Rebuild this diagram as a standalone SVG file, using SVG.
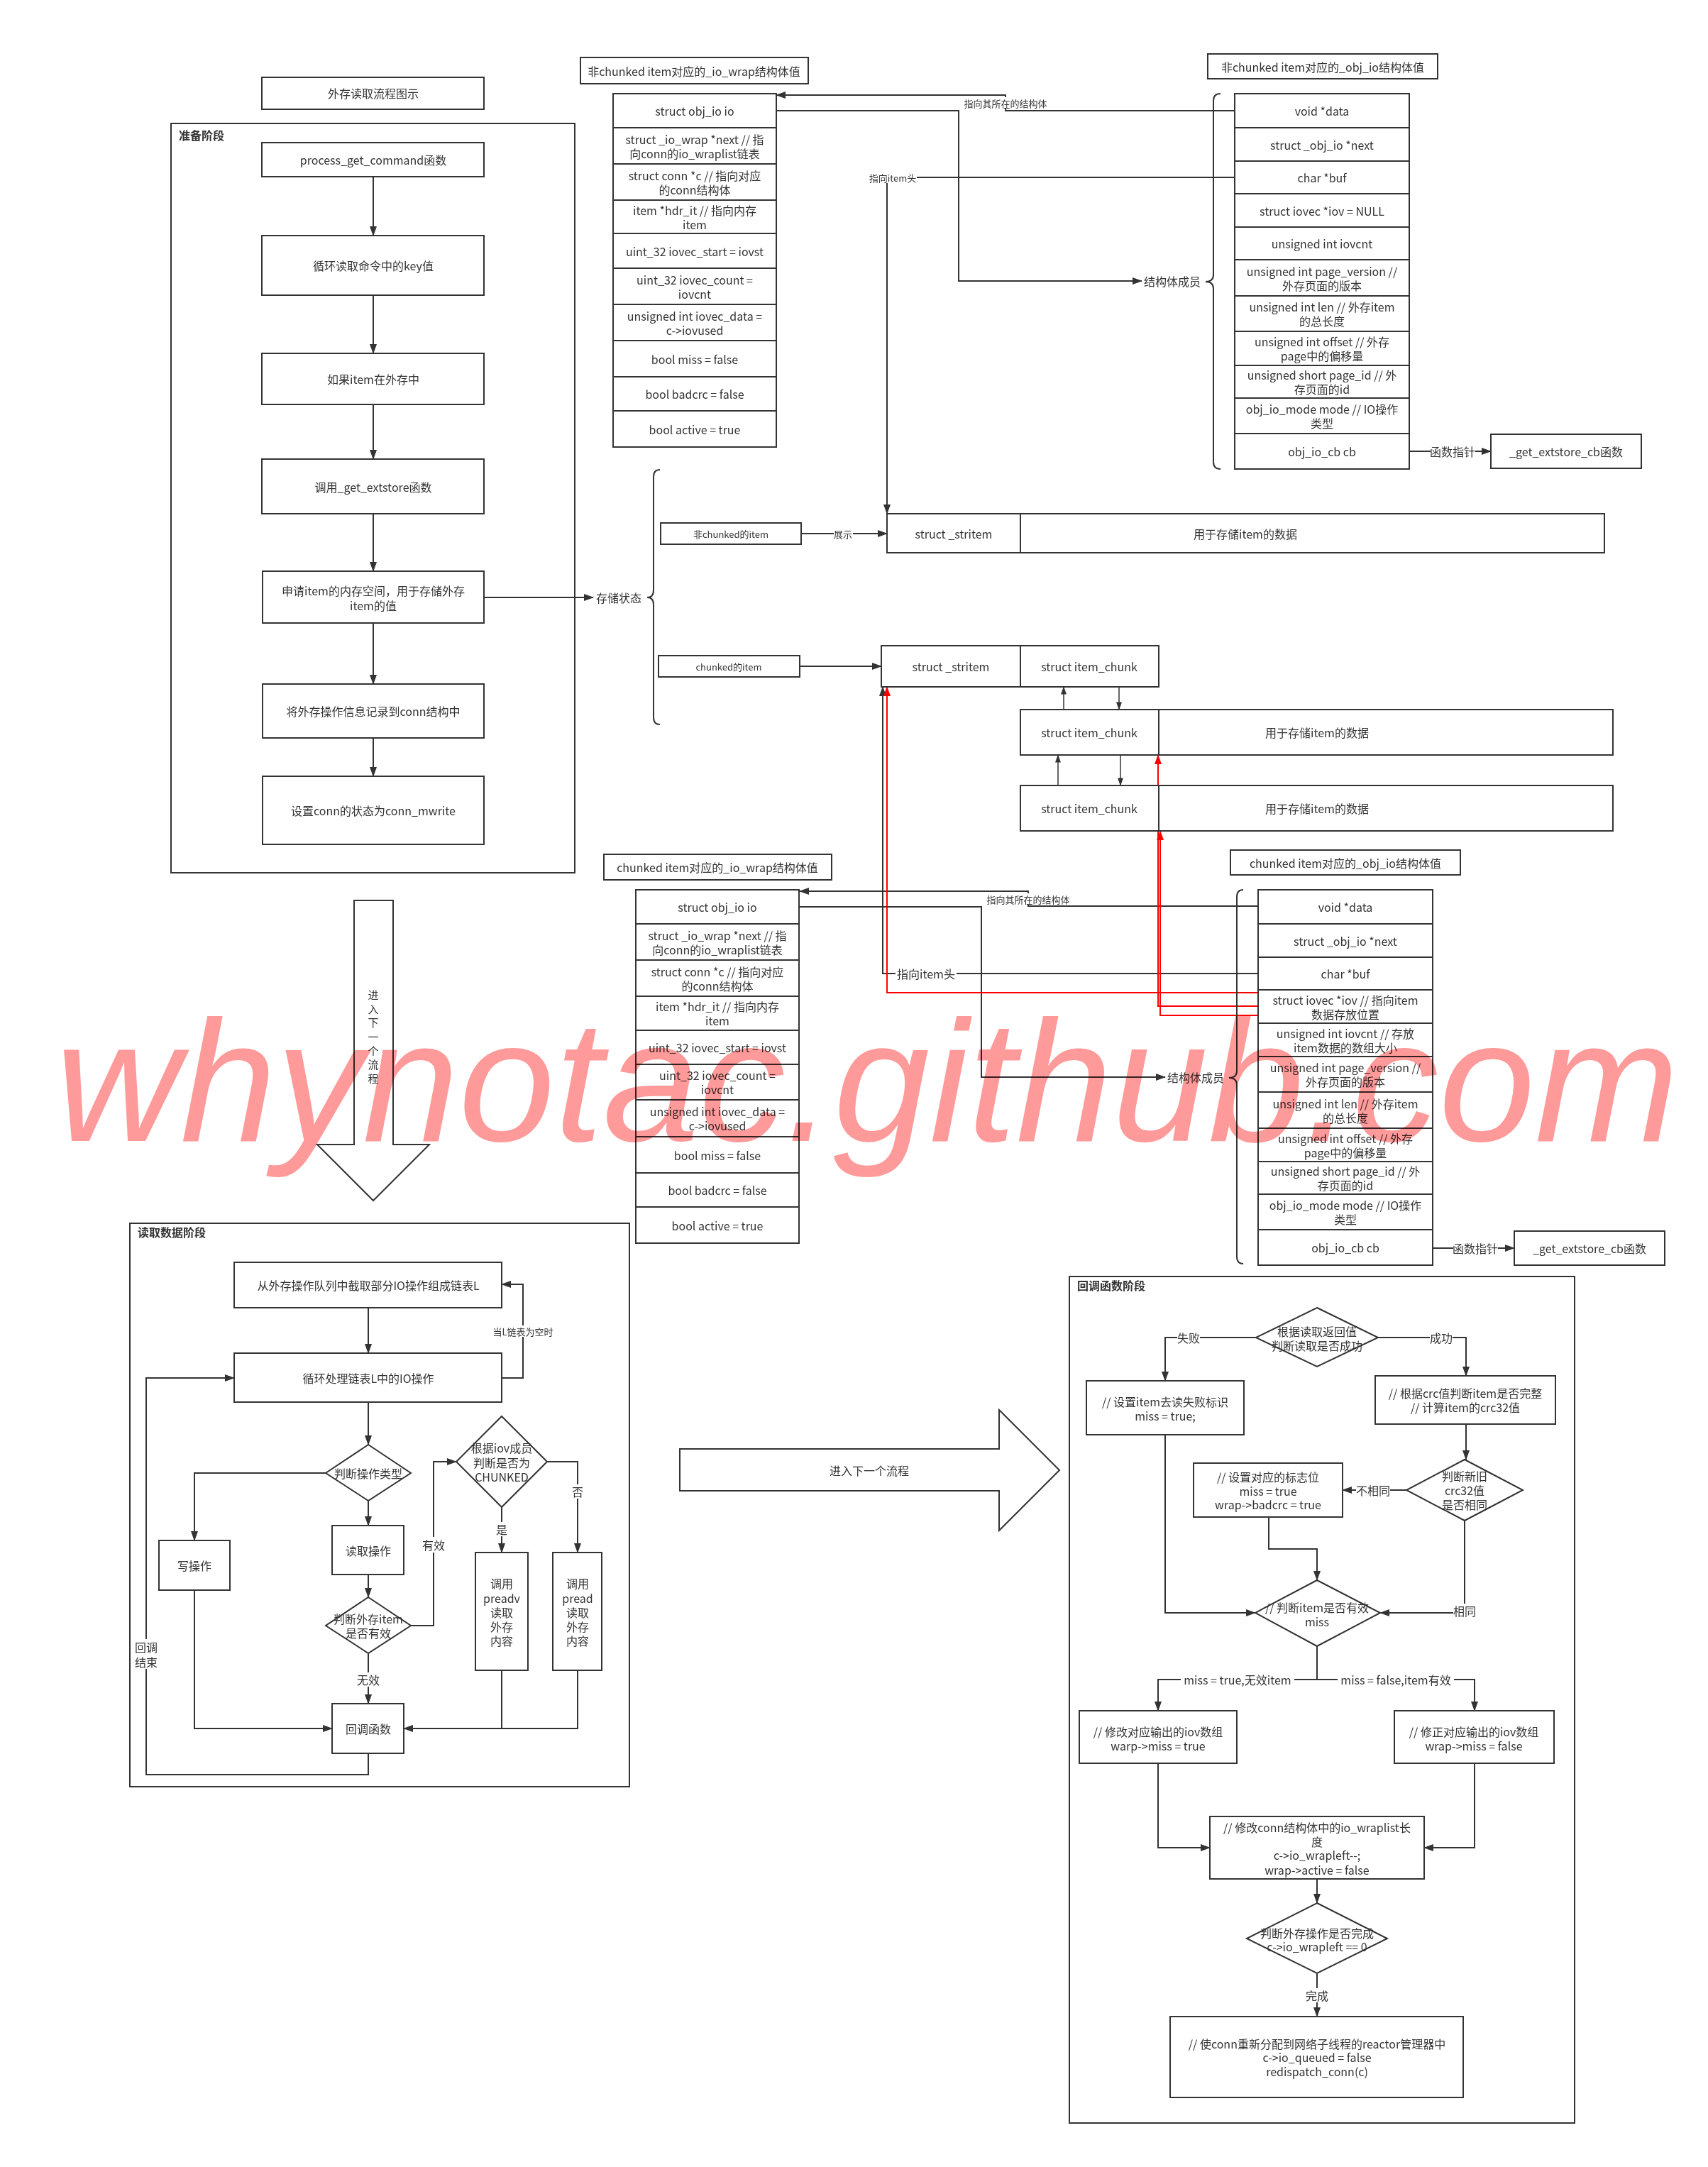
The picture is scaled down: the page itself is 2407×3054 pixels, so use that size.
<svg xmlns="http://www.w3.org/2000/svg" width="2407" height="3054" viewBox="0 0 2407 3054">
<style>
.bx{fill:#fff;stroke:#333;stroke-width:2}
.nf{fill:none;stroke:#333;stroke-width:2}
.ln{stroke:#333;stroke-width:2;fill:none}
.t{font-family:"Noto Sans CJK SC","Noto Sans",sans-serif;font-size:16px;fill:#333;text-anchor:middle;dominant-baseline:central}
.s{font-size:13px}
.v{font-size:15px}
.h{font-weight:bold;text-anchor:start}
.st{text-anchor:start}
.c{fill:none;stroke:#333;stroke-width:2;marker-end:url(#a)}
.cs{fill:none;stroke:#333;stroke-width:1.5;marker-end:url(#as)}
.r{fill:none;stroke:#f00;stroke-width:2;marker-end:url(#ar)}
.bg{fill:#fff}
.wm{font-family:"Liberation Sans",Arial,sans-serif;font-style:italic;font-size:243px;fill:#ff9a9a;mix-blend-mode:multiply}
</style>
<defs>
<marker id="a" viewBox="0 0 14 10" refX="13" refY="5" markerWidth="14" markerHeight="10" markerUnits="userSpaceOnUse" orient="auto"><path d="M0,0L14,5L0,10z" fill="#333"/></marker>
<marker id="as" viewBox="0 0 14 10" refX="13" refY="5" markerWidth="12" markerHeight="8" markerUnits="userSpaceOnUse" orient="auto"><path d="M0,0L14,5L0,10z" fill="#333"/></marker>
<marker id="ar" viewBox="0 0 14 10" refX="13" refY="5" markerWidth="14" markerHeight="10" markerUnits="userSpaceOnUse" orient="auto"><path d="M0,0L14,5L0,10z" fill="#f00"/></marker>
</defs>
<rect width="2407" height="3054" fill="#fff"/>

<!-- phase containers -->
<g id="phase-prepare"><rect class="nf" x="241" y="174" width="569" height="1056"/><text class="t h" x="252" y="190">准备阶段</text></g>
<g id="phase-read"><rect class="nf" x="183" y="1724" width="704" height="794"/><text class="t h" x="194" y="1736">读取数据阶段</text></g>
<g id="phase-callback"><rect class="nf" x="1507" y="1799" width="712" height="1193"/><text class="t h" x="1518" y="1811">回调函数阶段</text></g>

<!-- connectors -->
<g id="connectors">
<path class="c" d="M526,249V332"/>
<path class="c" d="M526,416V498"/>
<path class="c" d="M526,570V647"/>
<path class="c" d="M526,724V805"/>
<path class="c" d="M526,878V964"/>
<path class="c" d="M526,1040V1094"/>
<path class="c" d="M682,842H836"/>
<path class="c" d="M1129,752H1250"/>
<path class="c" d="M1127,939H1242"/>
<path class="cs" d="M1499,1000V968"/>
<path class="cs" d="M1577,968V1000"/>
<path class="cs" d="M1491,1107V1064"/>
<path class="cs" d="M1579,1064V1107"/>
<!-- non-chunked pointers -->
<path class="c" d="M1740,156H1417V134H1094"/>
<path class="c" d="M1094,156H1351V396H1609"/>
<path class="c" d="M1740,250H1250V724"/>
<path class="c" d="M1986,636H2101"/>
<!-- chunked pointers -->
<path class="c" d="M1772,1277H1449V1256H1127"/>
<path class="c" d="M1126,1278H1383V1518H1642"/>
<path class="c" d="M1772,1372H1244V968"/>
<path class="c" d="M2019,1759H2134"/>
<path class="r" d="M1772,1399H1250V968"/>
<path class="r" d="M1772,1418H1632V1064"/>
<path class="r" d="M1772,1431H1635V1171"/>
<!-- read phase -->
<path class="c" d="M519,1843V1907"/>
<path class="c" d="M707,1942H737V1810H707"/>
<path class="c" d="M519,1976V2036"/>
<path class="c" d="M459,2076H274V2171"/>
<path class="c" d="M519,2115V2150"/>
<path class="c" d="M519,2219V2251"/>
<path class="c" d="M579,2291H611V2060H643"/>
<path class="c" d="M707,2124V2188"/>
<path class="c" d="M771,2060H814V2188"/>
<path class="c" d="M519,2330V2401"/>
<path class="c" d="M274,2241V2436H468"/>
<path class="c" d="M814,2354V2436H569"/>
<path class="ln" d="M707,2354V2436"/>
<path class="c" d="M519,2471V2501H206V1942H330"/>
<!-- callback phase -->
<path class="c" d="M1770,1885H1642V1946"/>
<path class="c" d="M1942,1885H2066V1939"/>
<path class="c" d="M2066,2007V2057"/>
<path class="c" d="M1982,2100H1892"/>
<path class="c" d="M1788,2138V2183H1856V2227"/>
<path class="c" d="M1642,2022V2273H1769"/>
<path class="c" d="M2064,2143V2273H1945"/>
<path class="c" d="M1856,2320V2367H1632V2411"/>
<path class="c" d="M1856,2367H2078V2411"/>
<path class="c" d="M1632,2485V2604H1705"/>
<path class="c" d="M2078,2485V2604H2007"/>
<path class="c" d="M1856,2648V2682"/>
<path class="c" d="M1856,2781V2842"/>
<!-- connector labels -->
<g class="t s">
<rect class="bg" x="1175" y="744" width="27" height="16"/><text x="1188" y="752">展示</text>
<rect class="bg" x="1224" y="242" width="68" height="16"/><text x="1258" y="250">指向item头</text>
<rect class="bg" x="1357" y="137" width="120" height="16"/><text x="1417" y="145">指向其所在的结构体</text>
<rect class="bg" x="1389" y="1259" width="120" height="16"/><text x="1449" y="1267">指向其所在的结构体</text>
<rect class="bg" x="696" y="1868" width="82" height="16"/><text x="737" y="1876">当L链表为空时</text>
</g>
<g class="t">
<rect class="bg" x="1262" y="1362" width="86" height="20"/><text x="1305" y="1372">指向item头</text>
<rect class="bg" x="2016" y="626" width="63" height="20"/><text x="2047" y="636">函数指针</text>
<rect class="bg" x="2048" y="1749" width="63" height="20"/><text x="2079" y="1759">函数指针</text>
<text class="st" x="840" y="842">存储状态</text>
<text class="st" x="1612" y="396">结构体成员</text>
<text class="st" x="1645" y="1518">结构体成员</text>
<rect class="bg" x="595" y="2166" width="32" height="22"/><text x="611" y="2177">有效</text>
<rect class="bg" x="699" y="2145" width="16" height="20"/><text x="707" y="2155">是</text>
<rect class="bg" x="806" y="2092" width="16" height="20"/><text x="814" y="2102">否</text>
<rect class="bg" x="503" y="2357" width="32" height="20"/><text x="519" y="2367">无效</text>
<rect class="bg" x="190" y="2310" width="32" height="42"/><text x="206" y="2321">回调</text><text x="206" y="2342">结束</text>
<rect class="bg" x="1659" y="1875" width="32" height="20"/><text x="1675" y="1885">失败</text>
<rect class="bg" x="2015" y="1875" width="32" height="20"/><text x="2031" y="1885">成功</text>
<rect class="bg" x="1911" y="2090" width="48" height="20"/><text x="1935" y="2100">不相同</text>
<rect class="bg" x="2048" y="2260" width="32" height="20"/><text x="2064" y="2270">相同</text>
<rect class="bg" x="1664" y="2357" width="160" height="20"/><text x="1744" y="2367">miss = true,无效item</text>
<rect class="bg" x="1885" y="2357" width="164" height="20"/><text x="1967" y="2367">miss = false,item有效</text>
<rect class="bg" x="1840" y="2802" width="32" height="20"/><text x="1856" y="2812">完成</text>
</g>
<!-- braces -->
<path class="ln" d="M930,662Q921,662 921,672V832Q921,842 912,842Q921,842 921,852V1011Q921,1021 930,1021"/>
<path class="ln" d="M1720,132Q1710,132 1710,142V387Q1710,397 1699,397Q1710,397 1710,407V651Q1710,661 1720,661"/>
<path class="ln" d="M1752,1254Q1743,1254 1743,1264V1509Q1743,1519 1732,1519Q1743,1519 1743,1529V1771Q1743,1781 1752,1781"/>
</g>

<!-- prepare phase nodes -->
<g id="n-title"><rect class="bx" x="369" y="109" width="313" height="45"/><text class="t" x="526" y="131">外存读取流程图示</text></g>
<g id="n-process"><rect class="bx" x="369" y="201" width="313" height="48"/><text class="t" x="526" y="225">process_get_command函数</text></g>
<g id="n-loopkey"><rect class="bx" x="369" y="332" width="313" height="84"/><text class="t" x="526" y="374">循环读取命令中的key值</text></g>
<g id="n-inext"><rect class="bx" x="369" y="498" width="313" height="72"/><text class="t" x="526" y="534">如果item在外存中</text></g>
<g id="n-getext"><rect class="bx" x="369" y="647" width="313" height="77"/><text class="t" x="526" y="686">调用_get_extstore函数</text></g>
<g id="n-alloc"><rect class="bx" x="370" y="805" width="312" height="73"/><text class="t" x="526"><tspan x="526" y="832">申请item的内存空间，用于存储外存</tspan><tspan x="526" y="853">item的值</tspan></text></g>
<g id="n-record"><rect class="bx" x="370" y="964" width="312" height="76"/><text class="t" x="526" y="1002">将外存操作信息记录到conn结构中</text></g>
<g id="n-mwrite"><rect class="bx" x="370" y="1094" width="312" height="96"/><text class="t" x="526" y="1142">设置conn的状态为conn_mwrite</text></g>

<!-- storage state nodes -->
<g id="n-nonchunked-item"><rect class="bx" x="931" y="737" width="198" height="30"/><text class="t s" x="1030" y="752">非chunked的item</text></g>
<g id="n-nc-stritem"><rect class="bx" x="1250" y="724" width="1011" height="55"/><path class="ln" d="M1438,724V779"/><text class="t" x="1344" y="752">struct _stritem</text><text class="t" x="1755" y="752">用于存储item的数据</text></g>
<g id="n-chunked-item"><rect class="bx" x="928" y="924" width="199" height="30"/><text class="t s" x="1027" y="939">chunked的item</text></g>
<g id="n-c-stritem"><rect class="bx" x="1242" y="910" width="391" height="58"/><path class="ln" d="M1438,910V968"/><text class="t" x="1340" y="939">struct _stritem</text><text class="t" x="1535" y="939">struct item_chunk</text></g>
<g id="n-chunk2"><rect class="bx" x="1438" y="1000" width="835" height="64"/><path class="ln" d="M1633,1000V1064"/><text class="t" x="1535" y="1032">struct item_chunk</text><text class="t" x="1856" y="1032">用于存储item的数据</text></g>
<g id="n-chunk3"><rect class="bx" x="1438" y="1107" width="835" height="64"/><path class="ln" d="M1633,1107V1171"/><text class="t" x="1535" y="1139">struct item_chunk</text><text class="t" x="1856" y="1139">用于存储item的数据</text></g>

<!-- non-chunked io_wrap -->
<g id="n-nc-iowrap-title"><rect class="bx" x="818" y="81" width="321" height="37"/><text class="t" x="978" y="100">非chunked item对应的_io_wrap结构体值</text></g>
<g id="n-nc-iowrap">
<rect class="bx" x="864" y="132" width="230" height="498"/>
<path class="ln" d="M864,180H1094M864,231H1094M864,282H1094M864,329H1094M864,378H1094M864,429H1094M864,480H1094M864,531H1094M864,579H1094"/>
<g class="t">
<text x="979" y="156">struct obj_io io</text>
<text x="979" y="195.5">struct _io_wrap *next // 指</text><text x="979" y="215.5">向conn的io_wraplist链表</text>
<text x="979" y="246.5">struct conn *c // 指向对应</text><text x="979" y="266.5">的conn结构体</text>
<text x="979" y="295.5">item *hdr_it // 指向内存</text><text x="979" y="315.5">item</text>
<text x="979" y="353.5">uint_32 iovec_start = iovst</text>
<text x="979" y="393.5">uint_32 iovec_count =</text><text x="979" y="413.5">iovcnt</text>
<text x="979" y="444.5">unsigned int iovec_data =</text><text x="979" y="464.5">c-&gt;iovused</text>
<text x="979" y="505.5">bool miss = false</text>
<text x="979" y="555">bool badcrc = false</text>
<text x="979" y="604.5">bool active = true</text>
</g>
</g>

<!-- non-chunked obj_io -->
<g id="n-nc-objio-title"><rect class="bx" x="1702" y="76" width="324" height="35"/><text class="t" x="1864" y="94">非chunked item对应的_obj_io结构体值</text></g>
<g id="n-nc-objio">
<rect class="bx" x="1740" y="132" width="246" height="529"/>
<path class="ln" d="M1740,180H1986M1740,227H1986M1740,273H1986M1740,320H1986M1740,366H1986M1740,417H1986M1740,467H1986M1740,515H1986M1740,561H1986M1740,611H1986"/>
<g class="t">
<text x="1863" y="156">void *data</text>
<text x="1863" y="203.5">struct _obj_io *next</text>
<text x="1863" y="250">char *buf</text>
<text x="1863" y="296.5">struct iovec *iov = NULL</text>
<text x="1863" y="343">unsigned int iovcnt</text>
<text x="1863" y="381.5">unsigned int page_version //</text><text x="1863" y="401.5">外存页面的版本</text>
<text x="1863" y="432">unsigned int len // 外存item</text><text x="1863" y="452">的总长度</text>
<text x="1863" y="481">unsigned int offset // 外存</text><text x="1863" y="501">page中的偏移量</text>
<text x="1863" y="528">unsigned short page_id // 外</text><text x="1863" y="548">存页面的id</text>
<text x="1863" y="576">obj_io_mode mode // IO操作</text><text x="1863" y="596">类型</text>
<text x="1863" y="636">obj_io_cb cb</text>
</g>
</g>
<g id="n-nc-cb"><rect class="bx" x="2101" y="612" width="212" height="48"/><text class="t" x="2207" y="636">_get_extstore_cb函数</text></g>

<!-- chunked io_wrap -->
<g id="n-c-iowrap-title"><rect class="bx" x="851" y="1204" width="321" height="36"/><text class="t" x="1011" y="1222">chunked item对应的_io_wrap结构体值</text></g>
<g id="n-c-iowrap">
<rect class="bx" x="896" y="1254" width="230" height="498"/>
<path class="ln" d="M896,1302H1126M896,1353H1126M896,1404H1126M896,1452H1126M896,1500H1126M896,1550H1126M896,1602H1126M896,1653H1126M896,1701H1126"/>
<g class="t">
<text x="1011" y="1278">struct obj_io io</text>
<text x="1011" y="1317.5">struct _io_wrap *next // 指</text><text x="1011" y="1337.5">向conn的io_wraplist链表</text>
<text x="1011" y="1368.5">struct conn *c // 指向对应</text><text x="1011" y="1388.5">的conn结构体</text>
<text x="1011" y="1418">item *hdr_it // 指向内存</text><text x="1011" y="1438">item</text>
<text x="1011" y="1476">uint_32 iovec_start = iovst</text>
<text x="1011" y="1515">uint_32 iovec_count =</text><text x="1011" y="1535">iovcnt</text>
<text x="1011" y="1566">unsigned int iovec_data =</text><text x="1011" y="1586">c-&gt;iovused</text>
<text x="1011" y="1627.5">bool miss = false</text>
<text x="1011" y="1677">bool badcrc = false</text>
<text x="1011" y="1726.5">bool active = true</text>
</g>
</g>

<!-- chunked obj_io -->
<g id="n-c-objio-title"><rect class="bx" x="1734" y="1198" width="324" height="35"/><text class="t" x="1896" y="1216">chunked item对应的_obj_io结构体值</text></g>
<g id="n-c-objio">
<rect class="bx" x="1773" y="1254" width="246" height="529"/>
<path class="ln" d="M1773,1302H2019M1773,1349H2019M1773,1395H2019M1773,1442H2019M1773,1489H2019M1773,1539H2019M1773,1590H2019M1773,1637H2019M1773,1683H2019M1773,1733H2019"/>
<g class="t">
<text x="1896" y="1278">void *data</text>
<text x="1896" y="1325.5">struct _obj_io *next</text>
<text x="1896" y="1372">char *buf</text>
<text x="1896" y="1408.5">struct iovec *iov // 指向item</text><text x="1896" y="1428.5">数据存放位置</text>
<text x="1896" y="1455.5">unsigned int iovcnt // 存放</text><text x="1896" y="1475.5">item数据的数组大小</text>
<text x="1896" y="1504">unsigned int page_version //</text><text x="1896" y="1524">外存页面的版本</text>
<text x="1896" y="1554.5">unsigned int len // 外存item</text><text x="1896" y="1574.5">的总长度</text>
<text x="1896" y="1603.5">unsigned int offset // 外存</text><text x="1896" y="1623.5">page中的偏移量</text>
<text x="1896" y="1650">unsigned short page_id // 外</text><text x="1896" y="1670">存页面的id</text>
<text x="1896" y="1698">obj_io_mode mode // IO操作</text><text x="1896" y="1718">类型</text>
<text x="1896" y="1758">obj_io_cb cb</text>
</g>
</g>
<g id="n-c-cb"><rect class="bx" x="2134" y="1735" width="212" height="48"/><text class="t" x="2240" y="1759">_get_extstore_cb函数</text></g>

<!-- big arrows -->
<g id="n-next-down"><path class="bx" d="M499,1269H554V1613H605L526,1692L447,1613H499Z"/>
<g class="t v"><text x="526" y="1401">进</text><text x="526" y="1421">入</text><text x="526" y="1440">下</text><text x="526" y="1460">一</text><text x="526" y="1480">个</text><text x="526" y="1499">流</text><text x="526" y="1519">程</text></g></g>
<g id="n-next-right"><path class="bx" d="M958,2042H1408V1987L1493,2072L1408,2157V2101H958Z"/><text class="t" x="1225" y="2072">进入下一个流程</text></g>

<!-- read phase nodes -->
<g id="r-fetch"><rect class="bx" x="330" y="1779" width="377" height="64"/><text class="t" x="519" y="1811">从外存操作队列中截取部分IO操作组成链表L</text></g>
<g id="r-loop"><rect class="bx" x="330" y="1907" width="377" height="69"/><text class="t" x="519" y="1942">循环处理链表L中的IO操作</text></g>
<g id="r-optype"><polygon class="bx" points="519,2036 579,2076 519,2115 459,2076"/><text class="t" x="519" y="2076">判断操作类型</text></g>
<g id="r-write"><rect class="bx" x="224" y="2171" width="100" height="70"/><text class="t" x="274" y="2206">写操作</text></g>
<g id="r-read"><rect class="bx" x="468" y="2150" width="101" height="69"/><text class="t" x="519" y="2185">读取操作</text></g>
<g id="r-valid"><polygon class="bx" points="519,2251 579,2291 519,2330 459,2291"/><text class="t" x="519"><tspan x="519" y="2281">判断外存item</tspan><tspan x="519" y="2301">是否有效</tspan></text></g>
<g id="r-chunked"><polygon class="bx" points="707,1996 771,2060 707,2124 643,2060"/><text class="t" x="707"><tspan x="707" y="2040">根据iov成员</tspan><tspan x="707" y="2061">判断是否为</tspan><tspan x="707" y="2081">CHUNKED</tspan></text></g>
<g id="r-preadv"><rect class="bx" x="670" y="2188" width="74" height="166"/><text class="t" x="707"><tspan x="707" y="2231">调用</tspan><tspan x="707" y="2252">preadv</tspan><tspan x="707" y="2272">读取</tspan><tspan x="707" y="2292">外存</tspan><tspan x="707" y="2312">内容</tspan></text></g>
<g id="r-pread"><rect class="bx" x="779" y="2188" width="69" height="166"/><text class="t" x="814"><tspan x="814" y="2231">调用</tspan><tspan x="814" y="2252">pread</tspan><tspan x="814" y="2272">读取</tspan><tspan x="814" y="2292">外存</tspan><tspan x="814" y="2312">内容</tspan></text></g>
<g id="r-callback"><rect class="bx" x="468" y="2401" width="101" height="70"/><text class="t" x="519" y="2436">回调函数</text></g>

<!-- callback phase nodes -->
<g id="c-readok"><polygon class="bx" points="1856,1843 1942,1885 1856,1926 1770,1885"/><text class="t" x="1856"><tspan x="1856" y="1876">根据读取返回值</tspan><tspan x="1856" y="1896">判断读取是否成功</tspan></text></g>
<g id="c-fail"><rect class="bx" x="1531" y="1946" width="222" height="76"/><text class="t" x="1642"><tspan x="1642" y="1975">// 设置item去读失败标识</tspan><tspan x="1642" y="1995">miss = true;</tspan></text></g>
<g id="c-crc"><rect class="bx" x="1938" y="1939" width="254" height="68"/><text class="t" x="2065"><tspan x="2065" y="1963">// 根据crc值判断item是否完整</tspan><tspan x="2065" y="1983">// 计算item的crc32值</tspan></text></g>
<g id="c-crcsame"><polygon class="bx" points="2064,2057 2146,2100 2064,2143 1982,2100"/><text class="t" x="2064"><tspan x="2064" y="2080">判断新旧</tspan><tspan x="2064" y="2100">crc32值</tspan><tspan x="2064" y="2120">是否相同</tspan></text></g>
<g id="c-badcrc"><rect class="bx" x="1682" y="2062" width="210" height="76"/><text class="t" x="1787"><tspan x="1787" y="2081">// 设置对应的标志位</tspan><tspan x="1787" y="2101">miss = true</tspan><tspan x="1787" y="2120">wrap-&gt;badcrc = true</tspan></text></g>
<g id="c-miss"><polygon class="bx" points="1856,2227 1945,2273 1856,2320 1769,2273"/><text class="t" x="1856"><tspan x="1856" y="2265">// 判断item是否有效</tspan><tspan x="1856" y="2285">miss</tspan></text></g>
<g id="c-missyes"><rect class="bx" x="1521" y="2411" width="222" height="74"/><text class="t" x="1632"><tspan x="1632" y="2440">// 修改对应输出的iov数组</tspan><tspan x="1632" y="2460">warp-&gt;miss = true</tspan></text></g>
<g id="c-missno"><rect class="bx" x="1965" y="2411" width="225" height="74"/><text class="t" x="2077"><tspan x="2077" y="2440">// 修正对应输出的iov数组</tspan><tspan x="2077" y="2460">wrap-&gt;miss = false</tspan></text></g>
<g id="c-wrapleft"><rect class="bx" x="1705" y="2560" width="302" height="88"/><text class="t" x="1856"><tspan x="1856" y="2575">// 修改conn结构体中的io_wraplist长</tspan><tspan x="1856" y="2595">度</tspan><tspan x="1856" y="2614">c-&gt;io_wrapleft--;</tspan><tspan x="1856" y="2635">wrap-&gt;active = false</tspan></text></g>
<g id="c-done"><polygon class="bx" points="1856,2682 1955,2732 1856,2781 1757,2732"/><text class="t" x="1856"><tspan x="1856" y="2724">判断外存操作是否完成</tspan><tspan x="1856" y="2743">c-&gt;io_wrapleft == 0</tspan></text></g>
<g id="c-redispatch"><rect class="bx" x="1649" y="2842" width="413" height="114"/><text class="t" x="1856"><tspan x="1856" y="2880">// 使conn重新分配到网络子线程的reactor管理器中</tspan><tspan x="1856" y="2899">c-&gt;io_queued = false</tspan><tspan x="1856" y="2919">redispatch_conn(c)</tspan></text></g>

<!-- watermark -->
<text class="wm" x="78" y="1608" textLength="2288" lengthAdjust="spacingAndGlyphs">whynotac.github.com</text>
</svg>
